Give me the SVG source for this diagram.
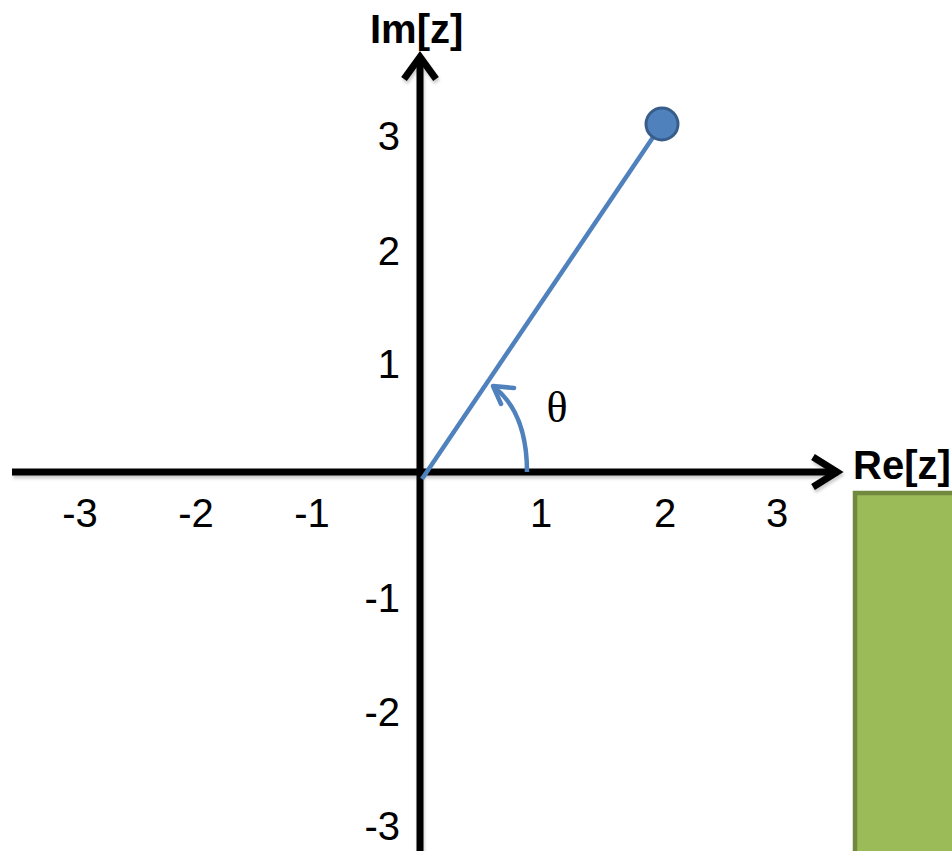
<svg xmlns="http://www.w3.org/2000/svg" width="952" height="851" viewBox="0 0 952 851">
  <defs>
    <filter id="shadow" x="-10%" y="-10%" width="120%" height="120%">
      <feDropShadow dx="1" dy="3" stdDeviation="1.5" flood-color="#000" flood-opacity="0.2"/>
    </filter>
    <style>
      .axis { stroke: #000; stroke-width: 7; fill: none; }
      .tick { font-family: "Liberation Sans", Arial, sans-serif; font-size: 40px; fill: #000; }
      .axlabel { font-family: "Liberation Sans", Arial, sans-serif; font-size: 40px; font-weight: bold; fill: #000; }
      .blue { stroke: #4f81bd; stroke-width: 4.5; fill: none; }
    </style>
  </defs>
  <rect width="952" height="851" fill="#fff"/>

  <g id="green-box">
    <rect x="855" y="493" width="110" height="370" fill="#9bbb59" stroke="#71893f" stroke-width="4.5"/>
  </g>

  <g id="connectors">
    <g id="axes" filter="url(#shadow)">
      <line class="axis" x1="12" y1="472" x2="838" y2="472"/>
      <path class="axis" d="M813,457 L837,472 L813,487" stroke-linejoin="miter"/>
      <line class="axis" x1="420" y1="851" x2="420" y2="58"/>
      <path class="axis" d="M404,79 L420,57 L436,79" stroke-linejoin="miter"/>
    </g>
    <line id="vector" class="blue" x1="422" y1="479" x2="662" y2="124"/>
    <g id="angle-arc">
      <path class="blue" d="M527,472 C527,435 517,405 494,387"/>
      <path class="blue" d="M514,388 L493,386 L501,404" stroke-width="5" stroke-linecap="round" stroke-linejoin="round"/>
    </g>
  </g>

  <g id="point">
    <circle cx="662" cy="124" r="16" fill="#4f81bd" stroke="#385d8a" stroke-width="3"/>
  </g>

  <g id="x-ticks">
    <text class="tick" x="80" y="527" text-anchor="middle">-3</text>
    <text class="tick" x="196" y="527" text-anchor="middle">-2</text>
    <text class="tick" x="312" y="527" text-anchor="middle">-1</text>
    <text class="tick" x="541" y="527" text-anchor="middle">1</text>
    <text class="tick" x="665" y="527" text-anchor="middle">2</text>
    <text class="tick" x="777" y="527" text-anchor="middle">3</text>
  </g>
  <g id="y-ticks">
    <text class="tick" x="400" y="150" text-anchor="end">3</text>
    <text class="tick" x="400" y="265" text-anchor="end">2</text>
    <text class="tick" x="400" y="378" text-anchor="end">1</text>
    <text class="tick" x="400" y="612" text-anchor="end">-1</text>
    <text class="tick" x="400" y="726" text-anchor="end">-2</text>
    <text class="tick" x="400" y="840" text-anchor="end">-3</text>
  </g>

  <g id="labels">
    <text id="im-label" class="axlabel" x="370" y="43">Im[z]</text>
    <text id="re-label" class="axlabel" x="853" y="479">Re[z]</text>
    <text id="theta" x="557" y="422" text-anchor="middle" font-family="'Liberation Serif', 'Times New Roman', serif" font-size="44">θ</text>
  </g>
</svg>
